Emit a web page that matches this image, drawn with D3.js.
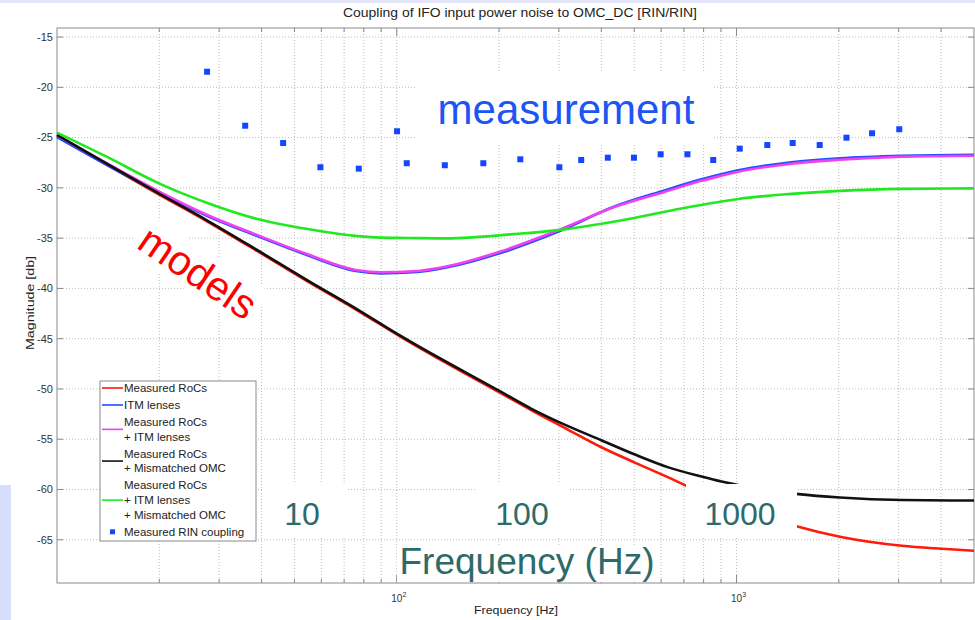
<!doctype html>
<meta charset="utf-8">
<script src="https://d3js.org/d3.v7.min.js"></script>
<style>
  body { margin: 0; background: #fff; }
  svg { font-family: "Liberation Sans", Arial, sans-serif; display: block; }
</style>
<body>
<svg width="975" height="620"></svg>
<script>
// ---- data (Hz, dB) ----
var freqRocs = [10, 14, 19.8, 27.7, 38.9, 54.6, 76.7, 103, 203, 250, 305, 400, 500, 630, 721, 1000, 1521, 2015, 3070, 4027, 5000];
var valRocs  = [-24.85, -27.7, -30.6, -33.35, -36.3, -39.3, -42.2, -44.85, -50.45, -52.15, -53.7, -55.8, -57.3, -58.8, -59.7, -61.6, -63.7, -64.7, -65.6, -65.9, -66.1];

var freqLens = [10, 14, 19.8, 27.7, 38.9, 54.6, 76.7, 89.8, 112, 141, 203, 299, 437, 614, 788, 903, 1012, 1449, 2015, 3070, 5000];
var valItm   = [-24.95, -27.7, -30.4, -32.8, -34.8, -36.7, -38.3, -38.5, -38.4, -37.9, -36.45, -34.35, -31.85, -30.25, -29.15, -28.65, -28.25, -27.45, -27.05, -26.8, -26.7];
var valRocsItm = [-24.8, -27.55, -30.3, -32.7, -34.7, -36.6, -38.2, -38.4, -38.3, -37.8, -36.3, -34.2, -31.9, -30.4, -29.3, -28.8, -28.4, -27.6, -27.2, -26.9, -26.8];

var freqOmc = [10, 14, 19.8, 27.7, 38.9, 54.6, 76.7, 103, 203, 250, 305, 400, 500, 630, 788, 903, 1521, 2015, 3070, 5000];
var valRocsOmc = [-24.74, -27.6, -30.5, -33.25, -36.2, -39.2, -42.1, -44.75, -50.3, -52.0, -53.4, -55.1, -56.5, -57.8, -58.7, -59.2, -60.46, -60.8, -61.05, -61.1];

var freqAll = [10, 14, 19.8, 27.7, 38.9, 54.6, 76.7, 89.8, 108, 141, 221, 299, 500, 688, 788, 903, 1012, 1449, 2015, 3070, 5000];
var valAll  = [-24.5, -26.9, -29.5, -31.5, -33.1, -34.1, -34.8, -34.95, -34.98, -35.02, -34.6, -34.2, -33.0, -32.05, -31.7, -31.35, -31.1, -30.6, -30.3, -30.1, -30.05];

var freqMeas = [27.65, 35.8, 46.3, 59.6, 77.3, 100.2, 107, 138.5, 179.8, 231, 301, 349, 418, 499, 598, 717, 854, 1022, 1232, 1463, 1757, 2107, 2506, 3013];
var valMeas  = [-18.45, -23.82, -25.54, -27.95, -28.09, -24.37, -27.55, -27.75, -27.55, -27.16, -27.95, -27.23, -27.0, -27.0, -26.66, -26.66, -27.23, -26.1, -25.74, -25.54, -25.74, -25.01, -24.57, -24.17];

var yTicks = [-15, -20, -25, -30, -35, -40, -45, -50, -55, -60, -65];
var xMajor = [100, 1000];
var xMajorExp = ["2", "3"];

var legendLabels = [
  ["Measured RoCs"],
  ["ITM lenses"],
  ["Measured RoCs", "+ ITM lenses"],
  ["Measured RoCs", "+ Mismatched OMC"],
  ["Measured RoCs", "+ ITM lenses", "+ Mismatched OMC"],
  ["Measured RIN coupling"]
];
var seriesColors = ["#ff1a0a", "#2050ff", "#f040f0", "#111111", "#22e822", "#1446ff"];

var noteFreqLabels = ["10", "100", "1000"];

// ---- setup ----
var svg = d3.select("svg");
var plotL = 57, plotR = 974, plotT = 28, plotB = 583;

var x = d3.scaleLog().domain([10, 5000]).range([plotL, plotR]);
var y = d3.scaleLinear().domain([-69.3, -14.1]).range([plotB, plotT]);

// slide decorations
svg.append("rect").attr("x", 0).attr("y", 0).attr("width", 975).attr("height", 3).attr("fill", "#e2e6f8");
svg.append("rect").attr("x", 0).attr("y", 485).attr("width", 11).attr("height", 135).attr("fill", "#d5defa");

// grid
var grid = svg.append("g");
var minorTicks = x.ticks().filter(function (d) { return d > 10 && d < 5000; });
grid.selectAll(".vg").data(minorTicks).enter().append("line")
  .attr("x1", function (d) { return x(d); }).attr("x2", function (d) { return x(d); })
  .attr("y1", plotT).attr("y2", plotB)
  .style("stroke", "#bdbdbd").style("stroke-dasharray", "1,2");
grid.selectAll(".hg").data(yTicks).enter().append("line")
  .attr("x1", plotL).attr("x2", plotR)
  .attr("y1", function (d) { return y(d); }).attr("y2", function (d) { return y(d); })
  .style("stroke", "#bdbdbd").style("stroke-dasharray", "1,2");

// white text boxes that hide the grid
svg.append("rect").attr("x", 417).attr("y", 72).attr("width", 295).attr("height", 71).attr("fill", "#fff");
svg.append("g").attr("transform", "translate(197,273) rotate(33)")
  .append("rect").attr("x", -72).attr("y", -24).attr("width", 144).attr("height", 44).attr("fill", "#fff");

// frame + ticks
svg.append("rect").attr("x", plotL).attr("y", plotT).attr("width", plotR - plotL).attr("height", plotB - plotT)
  .attr("fill", "none").attr("stroke", "#8a8a8a");
var ticks = svg.append("g").style("stroke", "#8a8a8a");
yTicks.forEach(function (v) {
  ticks.append("line").attr("x1", plotL).attr("x2", plotL + 6).attr("y1", y(v)).attr("y2", y(v));
  ticks.append("line").attr("x1", plotR).attr("x2", plotR - 6).attr("y1", y(v)).attr("y2", y(v));
});
minorTicks.forEach(function (f) {
  var len = xMajor.indexOf(f) >= 0 ? 8 : 4;
  ticks.append("line").attr("x1", x(f)).attr("x2", x(f)).attr("y1", plotB).attr("y2", plotB - len);
  ticks.append("line").attr("x1", x(f)).attr("x2", x(f)).attr("y1", plotT).attr("y2", plotT + len);
});

// tick labels
svg.selectAll(".yl").data(yTicks).enter().append("text")
  .attr("x", plotL - 4).attr("y", function (d) { return y(d); }).attr("dy", "0.35em")
  .attr("text-anchor", "end").attr("font-size", 11).attr("fill", "#333")
  .text(function (d) { return d; });
xMajor.forEach(function (f, i) {
  var t = svg.append("text").attr("x", x(f) - 5.5).attr("y", 602).attr("font-size", 10).attr("fill", "#333");
  t.append("tspan").text("10");
  t.append("tspan").attr("dy", -5).attr("font-size", 7).text(xMajorExp[i]);
});

// titles
svg.append("text").attr("x", 343).attr("y", 17)
  .attr("font-size", 12.5).attr("textLength", 354).attr("lengthAdjust", "spacingAndGlyphs")
  .attr("fill", "#222").text("Coupling of IFO input power noise to OMC_DC [RIN/RIN]");
svg.append("text").attr("x", 474).attr("y", 614)
  .attr("font-size", 11.5).attr("textLength", 84).attr("lengthAdjust", "spacingAndGlyphs")
  .attr("fill", "#222").text("Frequency [Hz]");
svg.append("text").attr("transform", "translate(34,350) rotate(-90)")
  .attr("font-size", 11.5).attr("textLength", 94).attr("lengthAdjust", "spacingAndGlyphs")
  .attr("fill", "#222").text("Magnitude [db]");

// curves
var line = d3.line().curve(d3.curveMonotoneX)
  .x(function (d) { return x(d[0]); }).y(function (d) { return y(d[1]); });
var curves = [
  [freqRocs, valRocs],
  [freqLens, valItm],
  [freqLens, valRocsItm],
  [freqOmc, valRocsOmc],
  [freqAll, valAll]
];
curves.forEach(function (c, i) {
  svg.append("path").datum(d3.zip(c[0], c[1])).attr("d", line)
    .attr("fill", "none").attr("stroke", seriesColors[i]).attr("stroke-width", 2.6)
    .attr("stroke-linejoin", "round");
});

// measured points
svg.selectAll(".dot").data(d3.zip(freqMeas, valMeas)).enter().append("rect")
  .attr("x", function (d) { return x(d[0]) - 3; }).attr("y", function (d) { return y(d[1]) - 3; })
  .attr("width", 6).attr("height", 6).attr("fill", seriesColors[5]);

// legend
var lg = svg.append("g");
lg.append("rect").attr("x", 100).attr("y", 381).attr("width", 156).attr("height", 160)
  .attr("fill", "#fff").attr("stroke", "#8a8a8a");
var cy = 388, lh = 14.7;
legendLabels.forEach(function (lines, i) {
  var mid = cy + (lines.length - 1) * lh / 2;
  if (i < 5) {
    lg.append("line").attr("x1", 102).attr("x2", 123).attr("y1", mid).attr("y2", mid)
      .attr("stroke", seriesColors[i]).attr("stroke-width", 1.6);
  } else {
    lg.append("rect").attr("x", 110).attr("y", mid - 2.5).attr("width", 5).attr("height", 5).attr("fill", seriesColors[i]);
  }
  lines.forEach(function (s, j) {
    lg.append("text").attr("x", 124).attr("y", cy + j * lh).attr("dy", "0.35em")
      .attr("font-size", 11.5).attr("fill", "#222").text(s);
  });
  cy += lines.length * lh + 2.3;
});

// slide annotations
var noteX = [302, 522, 740];
var boxes = [[263, 83], [475, 93], [686, 111]];
noteFreqLabels.forEach(function (s, i) {
  svg.append("rect").attr("x", boxes[i][0]).attr("y", 484).attr("width", boxes[i][1]).attr("height", 54).attr("fill", "#fff");
  svg.append("text").attr("x", noteX[i]).attr("y", 525).attr("text-anchor", "middle")
    .attr("font-size", 32).attr("fill", "#2d6a6a").text(s);
});
svg.append("rect").attr("x", 397).attr("y", 545).attr("width", 260).attr("height", 37).attr("fill", "#fff");
svg.append("text").attr("x", 527).attr("y", 574).attr("text-anchor", "middle")
  .attr("font-size", 37).attr("fill", "#2d6a6a").text("Frequency (Hz)");

svg.append("text").attr("x", 566).attr("y", 124).attr("text-anchor", "middle")
  .attr("font-size", 42).attr("fill", "#1b55f5").text("measurement");
svg.append("text").attr("transform", "translate(197,274) rotate(34)").attr("text-anchor", "middle")
  .attr("dy", "0.3em").attr("font-size", 41).attr("fill", "#ff0000").text("models");
</script>
</body>
